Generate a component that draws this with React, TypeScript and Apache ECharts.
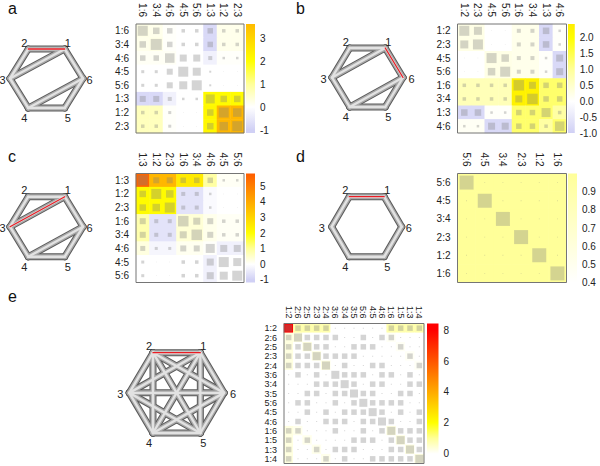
import React, { useEffect, useRef } from "react";
import * as echarts from "echarts";

const FONT = '"Liberation Sans", Arial, sans-serif';

const aLabels = ["1:6", "3:4", "4:6", "4:5", "5:6", "1:3", "1:2", "2:3"];
const aColor = [
  [0.25, 0.2, 0.05, 0, 0, -0.8, 0.2, 0.2],
  [0.2, 0.25, 0.05, 0, 0, -0.8, 0.2, 0.2],
  [0.1, 0.1, 0.1, 0, 0, -0.3, 0.05, 0.05],
  [0, 0, 0, 0, 0, 0, 0, 0],
  [0, 0, 0, 0, 0, 0, 0, 0],
  [-0.8, -0.8, -0.3, 0, 0, 2.1, 2.1, 2.1],
  [0.65, 0.65, 0.05, 0, 0, 2.2, 3.7, 3.7],
  [0.65, 0.65, 0.05, 0, 0, 2.2, 3.7, 3.7],
];
const aSize = [
  [10, 6.5, 5.5, 3.5, 3.5, 5.5, 3.5, 3.5],
  [6.5, 11, 5.5, 3.5, 3.5, 5.5, 3.5, 3.5],
  [5.5, 5.5, 9.5, 7, 7, 4, 2.5, 2.5],
  [3, 3, 6, 10, 8, 2, 0.5, 0.5],
  [3, 3, 6, 8, 10, 2, 0.5, 0.5],
  [6, 6, 4, 2.5, 2.5, 9, 6.5, 6.5],
  [3.5, 3.5, 3, 0.5, 0.5, 6.5, 10, 8.5],
  [3.5, 3.5, 3, 0.5, 0.5, 6.5, 8.5, 10],
];
const aTicks = [-1, 0, 1, 2, 3];

const bLabels = ["1:2", "2:3", "4:5", "5:6", "1:6", "3:4", "1:3", "4:6"];
const bColor = [
  [0.25, 0.25, 0, 0, 0.2, 0.2, -0.8, 0.05],
  [0.25, 0.25, 0, 0, 0.2, 0.2, -0.8, 0.05],
  [0, 0, 0.25, 0.25, 0.2, 0.2, 0.05, -0.8],
  [0, 0, 0.25, 0.25, 0.2, 0.2, 0.05, -0.8],
  [0.7, 0.7, 0.7, 0.7, 2.3, 2.3, 1.3, 1.3],
  [0.7, 0.7, 0.7, 0.7, 2.3, 2.3, 1.3, 1.3],
  [-0.8, -0.8, 0.05, 0.05, 1.3, 1.3, 1.3, 0.9],
  [0.1, 0.1, -0.8, -0.8, 1.3, 1.3, 0.9, 1.3],
];
const bSize = [
  [10, 8, 0.5, 0.5, 4, 4, 6.5, 2.5],
  [8, 10, 0.5, 0.5, 4, 4, 6.5, 2.5],
  [0.5, 0.5, 10, 7.5, 4, 4, 2.5, 7],
  [0.5, 0.5, 7.5, 10, 4, 4, 2.5, 7],
  [3.5, 3.5, 3.5, 3.5, 10.5, 7, 5.5, 5.5],
  [3.5, 3.5, 3.5, 3.5, 7, 10.5, 5.5, 5.5],
  [6.5, 6.5, 2.5, 2.5, 5.5, 5.5, 9, 3.5],
  [2.5, 2.5, 7, 7, 5.5, 5.5, 3.5, 9.5],
];
const bTicks = [-1, -0.5, 0, 0.5, 1, 1.5, 2];

const cLabels = ["1:3", "1:2", "2:3", "1:6", "3:4", "4:6", "4:5", "5:6"];
const cColor = [
  [5.6, 3.7, 3.7, 2.5, 2.5, 0.9, 0.1, 0.1],
  [2.1, 2.1, 2.1, -0.6, -0.6, -0.1, 0, 0],
  [2.1, 2.1, 2.1, -0.6, -0.6, -0.1, 0, 0],
  [0.8, -0.6, -0.6, 0.4, 0.4, 0.2, 0.1, 0.1],
  [0.8, -0.6, -0.6, 0.4, 0.4, 0.2, 0.1, 0.1],
  [0.3, -0.2, -0.2, 0.15, 0.15, 0.05, -0.3, -0.3],
  [0, 0, 0, 0, 0, -0.3, 0, 0],
  [0, 0, 0, 0, 0, -0.3, 0, 0],
];
const cSize = [
  [10, 6, 6, 5.5, 5.5, 5.5, 2.5, 2.5],
  [6.5, 10, 7.5, 4, 4, 2.5, 0.5, 0.5],
  [6.5, 7.5, 10, 4, 4, 2.5, 0.5, 0.5],
  [6, 4, 4, 10.5, 7, 6, 3.5, 3.5],
  [6, 4, 4, 7, 10.5, 6, 3.5, 3.5],
  [5, 3, 3, 6, 6, 9, 7, 7],
  [3, 0.5, 0.5, 3.5, 3.5, 7, 10, 8],
  [3, 0.5, 0.5, 3.5, 3.5, 7, 8, 10],
];
const cTicks = [-1, 0, 1, 2, 3, 4, 5];

const dLabels = ["5:6", "4:5", "3:4", "2:3", "1:2", "1:6"];
const dColor = [
  [1, 1, 1, 1, 1, 1],
  [1, 1, 1, 1, 1, 1],
  [1, 1, 1, 1, 1, 1],
  [1, 1, 1, 1, 1, 1],
  [1, 1, 1, 1, 1, 1],
  [1, 1, 1, 1, 1, 1],
];
const dSize = [
  [14, 0.8, 0.8, 0.8, 0.8, 0.8],
  [0.8, 14, 0.8, 0.8, 0.8, 0.8],
  [0.8, 0.8, 14, 0.8, 0.8, 0.8],
  [0.8, 0.8, 0.8, 14, 0.8, 0.8],
  [0.8, 0.8, 0.8, 0.8, 14, 0.8],
  [0.8, 0.8, 0.8, 0.8, 0.8, 14],
];
const dTicks = [0.4, 0.5, 0.6, 0.7, 0.8, 0.9];

const eLabels = ["1:2", "2:6", "2:5", "2:3", "2:4", "3:6", "3:4", "3:5", "5:6", "4:5", "4:6", "1:6", "1:5", "1:3", "1:4"];
const eColor = [
  [8.3, 0.8, 0.8, 0.8, 0.8, 0, 0, 0, 0, 0, 0, 0.8, 0.8, 0.8, 0.8],
  [0.3, 0.3, 0, 0, 0, 0, 0, 0, 0, 0, 0, 0.1, 0, 0, 0],
  [0.3, 0, 0.3, 0, 0, 0, 0, 0, 0, 0, 0, 0, 0.1, 0, 0],
  [0.3, 0, 0, 0.3, 0, 0, 0, 0, 0, 0, 0, 0, 0, 0.1, 0],
  [0.3, 0, 0, 0, 0.3, 0, 0, 0, 0, 0, 0, 0, 0, 0, 0.1],
  [0, 0, 0, 0, 0, 0, 0, 0, 0, 0, 0, 0, 0, 0, 0],
  [0, 0, 0, 0, 0, 0, 0, 0, 0, 0, 0, 0, 0, 0, 0],
  [0, 0, 0, 0, 0, 0, 0, 0, 0, 0, 0, 0, 0, 0, 0],
  [0, 0, 0, 0, 0, 0, 0, 0, 0, 0, 0, 0, 0, 0, 0],
  [0, 0, 0, 0, 0, 0, 0, 0, 0, 0, 0, 0, 0, 0, 0],
  [0, 0, 0, 0, 0, 0, 0, 0, 0, 0, 0, 0, 0, 0, 0],
  [0.3, 0.2, 0, 0, 0, 0, 0, 0, 0, 0, 0, 0.3, 0, 0, 0],
  [0.3, 0, 0.2, 0, 0, 0, 0, 0, 0, 0, 0, 0, 0.3, 0, 0],
  [0.3, 0, 0, 0.2, 0, 0, 0, 0, 0, 0, 0, 0, 0, 0.3, 0],
  [0.3, 0, 0, 0, 0.2, 0, 0, 0, 0, 0, 0, 0, 0, 0, 0.3],
];
const eSize = [
  [7, 5.5, 5.5, 5.5, 5.5, 1, 1, 1, 1, 1, 1, 5.5, 5.5, 5.5, 5.5],
  [5.5, 8, 5.5, 5.5, 5.5, 5.5, 1, 1, 5.5, 1, 5.5, 5.5, 1, 1, 1],
  [5.5, 5.5, 8, 5.5, 5.5, 1, 1, 5.5, 5.5, 5.5, 1, 1, 5.5, 1, 1],
  [5.5, 5.5, 5.5, 8, 5.5, 5.5, 5.5, 5.5, 1, 1, 1, 1, 1, 5.5, 1],
  [5.5, 5.5, 5.5, 5.5, 8, 1, 5.5, 1, 1, 5.5, 5.5, 1, 1, 1, 5.5],
  [1, 5.5, 1, 5.5, 1, 8, 5.5, 5.5, 5.5, 1, 5.5, 5.5, 1, 5.5, 1],
  [1, 1, 1, 5.5, 5.5, 5.5, 8, 5.5, 1, 5.5, 5.5, 1, 1, 5.5, 5.5],
  [1, 1, 5.5, 5.5, 1, 5.5, 5.5, 8, 5.5, 5.5, 1, 1, 5.5, 5.5, 1],
  [1, 5.5, 5.5, 1, 1, 5.5, 1, 5.5, 8, 5.5, 5.5, 5.5, 5.5, 1, 1],
  [1, 1, 5.5, 1, 5.5, 1, 5.5, 5.5, 5.5, 8, 5.5, 1, 5.5, 1, 5.5],
  [1, 5.5, 1, 1, 5.5, 5.5, 5.5, 1, 5.5, 5.5, 8, 5.5, 1, 1, 5.5],
  [5.5, 5.5, 1, 1, 1, 5.5, 1, 1, 5.5, 1, 5.5, 8, 5.5, 5.5, 5.5],
  [5.5, 1, 5.5, 1, 1, 1, 1, 5.5, 5.5, 5.5, 1, 5.5, 8, 5.5, 5.5],
  [5.5, 1, 1, 5.5, 1, 5.5, 5.5, 5.5, 1, 1, 1, 5.5, 5.5, 8, 5.5],
  [5.5, 1, 1, 1, 5.5, 1, 5.5, 1, 1, 5.5, 5.5, 5.5, 5.5, 5.5, 8],
];
const eTicks = [0, 2, 4, 6, 8];

const hexNodes: Record<string, number[]> = {
  "1": [0.5, 1],
  "2": [-0.5, 1],
  "3": [-1, 0],
  "4": [-0.5, -1],
  "5": [0.5, -1],
  "6": [1, 0],
};
const ringEdges = ["1:2", "2:3", "3:4", "4:5", "5:6", "1:6"];
const abcEdges = [...ringEdges, "1:3", "4:6"];
const allEdges = [...ringEdges, "1:3", "1:4", "1:5", "2:4", "2:5", "2:6", "3:5", "3:6", "4:6"];

const colourScale = ["#d0d0f5", "#ffffff", "#ffff99", "#ffff00", "#ffd500", "#ffaa00", "#ff8000", "#ff5500", "#ff2b00", "#ff0000"];
const scaleStops: [number, string][] = colourScale.map((c, i) => [i - 1, c]);

const panels = [
  { letter: "a", lx: 8, ly: 9, labels: aLabels, color: aColor, size: aSize, ticks: aTicks, edges: abcEdges, red: "1:2",
    plot: [136, 24, 108, 109], cbar: [246, 24, 9, 109], range: [-1.13, 3.61], hex: [10, 49, 73, 59], sidePad: [-7.5, 6.5],
    font: 10, marginX: 7, marginY: 7, stops: scaleStops, decimals: 0 },
  { letter: "b", lx: 296, ly: 9, labels: bLabels, color: bColor, size: bSize, ticks: bTicks, edges: abcEdges, red: "1:6",
    plot: [457.5, 24, 109, 109], cbar: [568, 24, 9, 109], range: [-1, 2.44], hex: [332, 48, 71, 59], sidePad: [-8.5, 8.5],
    font: 10, marginX: 7, marginY: 7, stops: scaleStops, decimals: 1 },
  { letter: "c", lx: 8, ly: 157, labels: cLabels, color: cColor, size: cSize, ticks: cTicks, edges: abcEdges, red: "1:3",
    plot: [136, 173.5, 108, 109], cbar: [246, 173.5, 9, 109], range: [-1.17, 5.83], hex: [10, 196.7, 73, 60], sidePad: [-7.5, 6.5],
    font: 10, marginX: 7, marginY: 7, stops: scaleStops, decimals: 0 },
  { letter: "d", lx: 296, ly: 157, labels: dLabels, color: dColor, size: dSize, ticks: dTicks, edges: ringEdges, red: "1:2",
    plot: [457.5, 173.5, 109, 109], cbar: [568, 173.5, 9, 109], range: [0.4, 1], hex: [331.7, 196.7, 70, 60], sidePad: [-10, 7],
    font: 10, marginX: 7, marginY: 7, stops: [[0.4, "#ffffff"], [1, "#ffff99"]] as [number, string][], decimals: 1 },
  { letter: "e", lx: 8, ly: 297, labels: eLabels, color: eColor, size: eSize, ticks: eTicks, edges: allEdges, red: "1:2",
    plot: [284, 323.5, 140, 140], cbar: [427, 323.5, 11.5, 140], range: [-0.63, 8.43], hex: [129.3, 352.7, 94.7, 80.3], sidePad: [-9, 9],
    font: 9, marginX: 7, marginY: 5, stops: [[-0.63, "#ffffff"], ...scaleStops.slice(1)] as [number, string][], decimals: 0 },
];

const labelOffsets: Record<string, number[]> = {
  "1": [3, -6.5],
  "2": [-4, -6.5],
  "4": [-4, 10],
  "5": [3, 10],
};

const tubeLayers = [
  { stroke: "#5a5a5a", lineWidth: 7 },
  { stroke: "#a8a8a8", lineWidth: 5 },
  { stroke: "#e2e2e2", lineWidth: 2.4 },
];
const INK = "#222";

function buildOption() {
  const grid: any[] = [];
  const xAxis: any[] = [];
  const yAxis: any[] = [];
  const series: any[] = [];
  const heatIdx: number[] = [];

  panels.forEach((p) => {
    const gi = grid.length;
    grid.push({ left: p.plot[0], top: p.plot[1], width: p.plot[2], height: p.plot[3] });
    xAxis.push({
      type: "category", gridIndex: gi, position: "top", data: p.labels, axisLine: { show: false }, axisTick: { show: false },
      axisLabel: { interval: 0, rotate: 90, fontSize: p.font, fontFamily: FONT, color: INK, margin: p.marginY },
    });
    yAxis.push({
      type: "category", gridIndex: gi, inverse: true, data: p.labels, axisLine: { show: false }, axisTick: { show: false },
      axisLabel: { interval: 0, fontSize: p.font, fontFamily: FONT, color: INK, margin: p.marginX },
    });
    const heat: number[][] = [];
    const squares: number[][] = [];
    p.labels.forEach((_, r) => p.labels.forEach((__, c) => {
      heat.push([c, r, p.color[r][c]]);
      squares.push([c, r, p.size[r][c]]);
    }));
    heatIdx.push(series.length);
    series.push({ type: "heatmap", xAxisIndex: gi, yAxisIndex: gi, data: heat, silent: true, itemStyle: { borderWidth: 0 }, z: 1 });
    series.push({
      type: "scatter", xAxisIndex: gi, yAxisIndex: gi, data: squares, symbol: "rect", silent: true,
      symbolSize: (d: number[]) => d[2], itemStyle: { color: "rgba(128,128,128,0.42)" }, z: 2,
    });
    series.push({
      type: "custom", xAxisIndex: gi, yAxisIndex: gi, data: [[0, 0]], silent: true, z: 3, clip: false,
      renderItem: (params: any) => ({
        type: "rect",
        shape: { x: params.coordSys.x, y: params.coordSys.y, width: params.coordSys.width, height: params.coordSys.height },
        style: { fill: "none", stroke: "#757575", lineWidth: 1 },
      }),
    });

    const bi = grid.length;
    grid.push({ left: p.cbar[0], top: p.cbar[1], width: p.cbar[2], height: p.cbar[3] });
    xAxis.push({ type: "value", gridIndex: bi, min: 0, max: 1, show: false });
    const [lo, hi] = p.range;
    yAxis.push({
      type: "value", gridIndex: bi, min: lo, max: hi, position: "right", splitLine: { show: false },
      axisLine: { show: false }, axisTick: { show: false },
      axisLabel: {
        customValues: p.ticks, fontSize: 10, fontFamily: FONT, color: INK, margin: 5,
        formatter: (v: number) => v.toFixed(p.decimals),
      },
    });
    const gradStops = p.stops
      .filter(([v]) => v >= lo && v <= hi)
      .map(([v, c]) => ({ offset: (hi - v) / (hi - lo), color: c }))
      .sort((x, y) => x.offset - y.offset);
    if (hi < p.stops[p.stops.length - 1][0]) {
      const idx = p.stops.findIndex(([v]) => v > hi);
      const t = (hi - p.stops[idx - 1][0]) / (p.stops[idx][0] - p.stops[idx - 1][0]);
      const a = echarts.color.parse(p.stops[idx - 1][1]);
      const b = echarts.color.parse(p.stops[idx][1]);
      const mix = a.map((ch: number, i: number) => Math.round(ch + (b[i] - ch) * t));
      gradStops.unshift({ offset: 0, color: `rgb(${mix[0]},${mix[1]},${mix[2]})` });
    }
    series.push({
      type: "custom", xAxisIndex: bi, yAxisIndex: bi, data: [[0, lo]], silent: true, z: 1,
      renderItem: (params: any) => ({
        type: "rect",
        shape: { x: params.coordSys.x, y: params.coordSys.y, width: params.coordSys.width, height: params.coordSys.height },
        style: { fill: new echarts.graphic.LinearGradient(0, 0, 0, 1, gradStops), stroke: "none" },
      }),
    });

    const hi2 = grid.length;
    grid.push({ left: p.hex[0], top: p.hex[1], width: p.hex[2], height: p.hex[3] });
    xAxis.push({ type: "value", gridIndex: hi2, min: -1, max: 1, show: false });
    yAxis.push({ type: "value", gridIndex: hi2, min: -1, max: 1, show: false });
    const segs: number[][] = [];
    const layerOf: any[] = [];
    tubeLayers.forEach((layer) => p.edges.forEach((e) => {
      const [a, b] = e.split(":");
      segs.push([...hexNodes[a], ...hexNodes[b]]);
      layerOf.push(layer);
    }));
    const [ra, rb] = p.red.split(":");
    segs.push([...hexNodes[ra], ...hexNodes[rb]]);
    layerOf.push({ stroke: "#ea1c24", lineWidth: 1.3 });
    series.push({
      type: "custom", xAxisIndex: hi2, yAxisIndex: hi2, data: segs, silent: true, clip: false, z: 1,
      encode: { x: 0, y: 1 },
      renderItem: (params: any, api: any) => {
        const s = api.coord([api.value(0), api.value(1)]);
        const t = api.coord([api.value(2), api.value(3)]);
        return {
          type: "line",
          shape: { x1: s[0], y1: s[1], x2: t[0], y2: t[1] },
          style: { ...layerOf[params.dataIndex], lineCap: "round", fill: "none" },
        };
      },
    });
    const ids = Object.keys(hexNodes);
    const offsets: Record<string, number[]> = { ...labelOffsets, "3": [p.sidePad[0], 1], "6": [p.sidePad[1], 1] };
    series.push({
      type: "custom", xAxisIndex: hi2, yAxisIndex: hi2, data: ids.map((k) => hexNodes[k]), silent: true, clip: false, z: 2,
      encode: { x: 0, y: 1 },
      renderItem: (params: any, api: any) => {
        const id = ids[params.dataIndex];
        const pt = api.coord([api.value(0), api.value(1)]);
        return {
          type: "text",
          x: pt[0] + offsets[id][0],
          y: pt[1] + offsets[id][1],
          style: { text: id, fontSize: 11, fontFamily: FONT, fill: INK, textAlign: "center", textVerticalAlign: "middle", align: "center", verticalAlign: "middle" },
        };
      },
    });
  });

  return {
    animation: false,
    backgroundColor: "#ffffff",
    grid,
    xAxis,
    yAxis,
    series,
    visualMap: [{
      type: "continuous", show: false, min: -1, max: 8, seriesIndex: heatIdx, dimension: 2,
      inRange: { color: colourScale },
    }],
    graphic: panels.map((p) => ({
      type: "text", left: p.lx, top: p.ly - 9,
      style: { text: p.letter, fontSize: 16, fontFamily: FONT, fill: "#111" },
    })),
  };
}

export default function App() {
  const ref = useRef<HTMLDivElement>(null);
  useEffect(() => {
    if (!ref.current) return;
    const chart = echarts.init(ref.current, undefined, { renderer: "svg" });
    chart.setOption(buildOption() as any);
    return () => chart.dispose();
  }, []);
  return <div ref={ref} style={{ position: "absolute", left: 0, top: 0, width: 600, height: 466 }} />;
}
